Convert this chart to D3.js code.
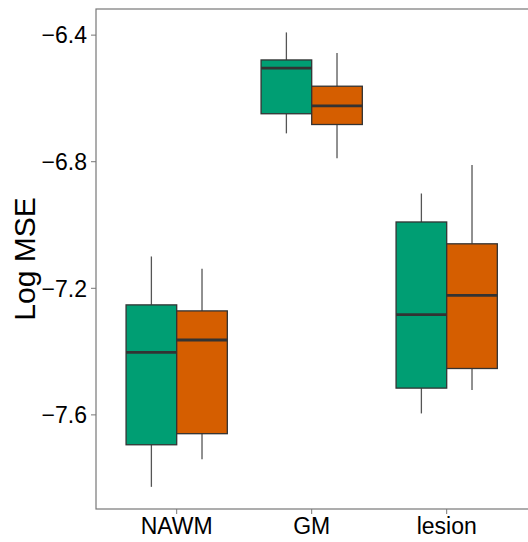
<!DOCTYPE html>
<html>
<head>
<meta charset="utf-8">
<script src="https://cdn.jsdelivr.net/npm/d3@7"></script>
<style>
  body { margin: 0; background: #fff; }
  text { font-family: "Liberation Sans", Arial, sans-serif; }
</style>
</head>
<body>
<svg id="chart" width="528" height="542"></svg>
<script>
// regions on the x axis, two methods per region
const regions = ['NAWM', 'GM', 'lesion'];
const methods = ['a', 'b'];
const yTicks = [-6.4, -6.8, -7.2, -7.6];

// box stats: [whiskerLow, q1, median, q3, whiskerHigh]
const statsA = [
    [-7.829, -7.696, -7.404, -7.254, -7.101],
    [-6.712, -6.650, -6.506, -6.480, -6.393],
    [-7.597, -7.517, -7.285, -6.992, -6.902]
];
const statsB = [
    [-7.742, -7.661, -7.365, -7.273, -7.140],
    [-6.791, -6.684, -6.625, -6.563, -6.458],
    [-7.523, -7.455, -7.224, -7.061, -6.812]
];

const colors = { a: '#009E73', b: '#D55E00' };

const margin = { left: 96, top: 9, right: -8, bottom: 33 };
const width = 528 - margin.left - margin.right;
const height = 542 - margin.top - margin.bottom;

const svg = d3.select('#chart');
const g = svg.append('g').attr('transform', `translate(${margin.left},${margin.top})`);

const x = d3.scaleBand().domain(regions).range([13.2, 418.2]).paddingInner(0.25).paddingOuter(0.125);
const xm = d3.scaleBand().domain(methods).range([0, x.bandwidth()]);
const y = d3.scaleLinear().domain([-7.899, -6.319]).range([height, 0]);

// panel border
g.append('rect')
    .attr('x', 0).attr('y', 0)
    .attr('width', width).attr('height', height)
    .attr('fill', 'none').attr('stroke', '#777').attr('stroke-width', 1.2);

const yAxis = g.append('g').call(d3.axisLeft(y).tickValues(yTicks).tickSize(5).tickPadding(4)
    .tickFormat(d => d3.format('.1f')(d).replace('-', '\u2212')));
yAxis.select('.domain').remove();
yAxis.selectAll('line').attr('stroke', '#777');
yAxis.selectAll('text').attr('font-size', 23).attr('fill', '#000').attr('dy', '0.36em');

const xAxis = g.append('g').attr('transform', `translate(0,${height})`)
    .call(d3.axisBottom(x).tickSize(5).tickPadding(4));
xAxis.select('.domain').remove();
xAxis.selectAll('line').attr('stroke', '#777');
xAxis.selectAll('text').attr('font-size', 23).attr('fill', '#000');

svg.append('text')
    .attr('transform', `translate(35,${margin.top + height / 2}) rotate(-90)`)
    .attr('text-anchor', 'middle')
    .attr('font-size', 30)
    .text('Log MSE');

const boxes = [];
regions.forEach((r, i) => {
    boxes.push({ region: r, method: 'a', s: statsA[i] });
    boxes.push({ region: r, method: 'b', s: statsB[i] });
});

const bg = g.selectAll('g.box').data(boxes).enter().append('g')
    .attr('class', 'box')
    .attr('transform', d => `translate(${x(d.region) + xm(d.method)},0)`);

const bw = xm.bandwidth();

bg.append('line')
    .attr('x1', bw / 2).attr('x2', bw / 2)
    .attr('y1', d => y(d.s[4])).attr('y2', d => y(d.s[3]))
    .attr('stroke', '#555').attr('stroke-width', 1.3);
bg.append('line')
    .attr('x1', bw / 2).attr('x2', bw / 2)
    .attr('y1', d => y(d.s[1])).attr('y2', d => y(d.s[0]))
    .attr('stroke', '#555').attr('stroke-width', 1.3);
bg.append('rect')
    .attr('x', 0).attr('width', bw)
    .attr('y', d => y(d.s[3]))
    .attr('height', d => y(d.s[1]) - y(d.s[3]))
    .attr('fill', d => colors[d.method])
    .attr('stroke', '#333').attr('stroke-width', 1.3);
bg.append('line')
    .attr('x1', 0).attr('x2', bw)
    .attr('y1', d => y(d.s[2])).attr('y2', d => y(d.s[2]))
    .attr('stroke', '#333').attr('stroke-width', 2.8);
</script>
</body>
</html>
